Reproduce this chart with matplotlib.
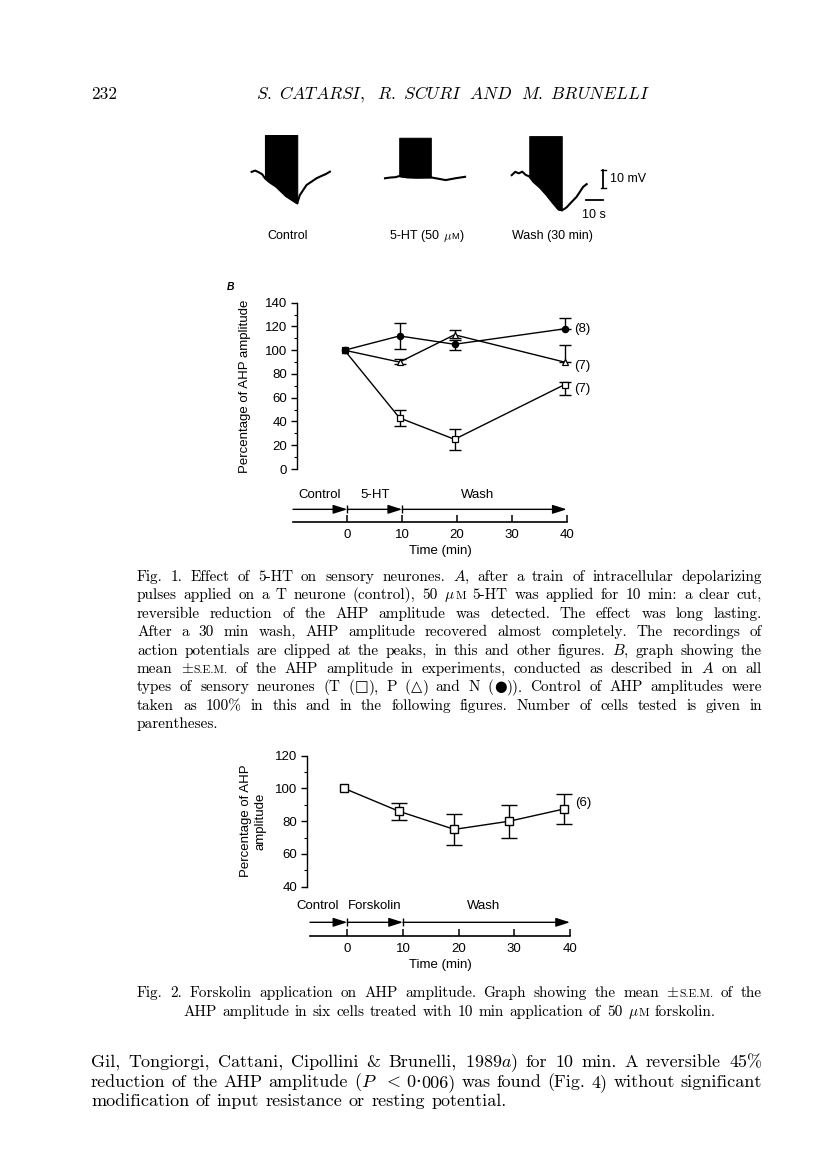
import numpy as np
import matplotlib
matplotlib.use("Agg")
import matplotlib.pyplot as plt

plt.rcParams['mathtext.fontset'] = 'cm'
SANS = 'Liberation Sans'
SERIF = ['cmr10', 'DejaVu Serif']

W, H = 816, 1160
fig = plt.figure(figsize=(W / 100, H / 100), dpi=100)


def px_axes(x0, y0, x1, y1):
    # axes placed by page pixel box (top-left origin)
    return fig.add_axes([x0 / W, 1 - y1 / H, (x1 - x0) / W, (y1 - y0) / H])


# ---------------- data ----------------
# A: voltage traces (time in s, membrane potential in mV)
ctrl_t = [0, 2, 4, 6, 7.6, 10, 14, 19.5, 25.9, 27.4, 31.2, 36.9, 40, 42, 44.5]
ctrl_v = [0.5, 1.2, 0.3, -0.8, -3, -5, -7.6, -12.7, -16.7, -12.2, -6.7, -3, -1.6, -0.8, 0.6]
ht_t = [0, 3, 6, 8.1, 12, 18, 26, 30, 34.5, 40, 45.5]
ht_v = [-3, -2.6, -2.4, -1.8, -2.4, -2.6, -2.5, -3.2, -4.0, -3.0, -2.2]
wash_t = [0, 2, 4, 6, 8, 10, 12.3, 16, 19.9, 23, 26.5, 28.4, 29.5, 31.2, 34, 36.9, 40.6, 42.6]
wash_v = [-1.3, 0.5, -0.3, 0.6, -1.2, -2, -4.9, -8, -12.2, -16, -20, -20.5, -20, -18.9, -16, -13.1, -7.7, -6.2]
trace_start = [6.6, 82.4, 154.4]       # s, position of each trace on the strip
spike_on = [7.6, 8.1, 10.0]
spike_off = [25.9, 26.0, 28.4]
clip_top = [20.6, 19.1, 20.0]
trace_names = ['Control', '5-HT (50 μ{M})', 'Wash (30 min)']
scale_mv, scale_s = 10, 10

# B: AHP amplitude after 5-HT
time_b = [0, 10, 20, 40]
amp_T = [100, 43, 25, 71]
lo_T = [0, 7, 9, 9]
hi_T = [0, 7, 9, 2]
amp_P = [100, 90, 113, 90]
lo_P = [0, 2, 3, 0]
hi_P = [0, 3, 4, 14]
amp_N = [100, 112, 105, 118]
lo_N = [0, 11, 5, 0]
hi_N = [0, 11, 4, 9]
n_cells_b = {'N': '(8)', 'P': '(7)', 'T': '(7)'}
phases_b = ['Control', '5-HT', 'Wash']
edges_b = [-9.9, 0, 10, 40]
label_x_b = [-5.0, 5.0, 23.8]

# Fig. 2: forskolin
time_2 = [0, 10, 20, 30, 40]
amp_2 = [100, 86, 75, 80, 87.5]
err_2 = [0, 5, 9.5, 10, 9]
phases_2 = ['Control', 'Forskolin', 'Wash']
edges_2 = [-6.7, 0, 10, 40]
label_x_2 = [-5.3, 5.0, 24.4]
time_ticks = [0, 10, 20, 30, 40]

# ---------------- text helpers ----------------
SPECIAL = {'□': ('□', 0.95, 'DejaVu Sans'), '△': ('△', 0.95, 'DejaVu Sans'),
           '●': ('●', 0.95, 'DejaVu Sans'), '±': (r'$\pm$', 1.0, None),
           'μ': (r'$\mu$', 1.0, None), '·': ('·', 1.0, 'DejaVu Serif'),
           '<': (r'$<$', 1.0, None)}


def segments(word):
    segs, buf, small = [], '', False
    for ch in word:
        if ch in SPECIAL or ch in '{}':
            if buf:
                segs.append((buf, 0.75 if small else 1.0, None))
                buf = ''
            if ch == '{':
                small = True
            elif ch == '}':
                small = False
            else:
                segs.append(SPECIAL[ch])
        else:
            buf += ch
    if buf:
        segs.append((buf, 0.75 if small else 1.0, None))
    return segs


def text_line(line, x0, x1, y, size, mode='justify', family=SERIF, space=0.36):
    r = fig.canvas.get_renderer()
    items = []
    for w in line.split(' '):
        parts = []
        for s, sc, fam in segments(w):
            t = fig.text(0, 1 - y / H, s, fontsize=size * sc,
                         family=fam if fam else family, va='baseline')
            parts.append((t, t.get_window_extent(r).width))
        items.append(parts)
    tot = sum(wd for parts in items for _, wd in parts)
    if mode == 'justify':
        gap = (x1 - x0 - tot) / (len(items) - 1)
        x = x0
    else:
        gap = space * size * 100 / 72
        width = tot + gap * (len(items) - 1)
        x = x0 if mode == 'left' else (x0 + x1) / 2 - width / 2
    for parts in items:
        for t, wd in parts:
            t.set_x(x / W)
            x += wd
        x += gap


def paragraph(lines, x0, x1, y0, lead, size, last='left'):
    for i, line in enumerate(lines):
        mode = 'justify' if i < len(lines) - 1 else last
        text_line(line, x0, x1, y0 + i * lead, size, mode)


# ---------------- header ----------------
fig.text(91 / W, 1 - 99 / H, '232', fontsize=12.5, family=SERIF, va='baseline')
fig.text(453 / W, 1 - 99 / H, r'$S.\ CATARSI,\ \ R.\ SCURI\ \ AND\ \ M.\ BRUNELLI$',
         fontsize=12.5, ha='center', va='baseline')

# ---------------- A: traces ----------------
axA = px_axes(240, 125, 640, 220)
axA.set_xlim(0, 227.3)
axA.set_ylim(-25.8, 26.1)
axA.axis('off')
for tt, vv, t0, on, off, top in zip([ctrl_t, ht_t, wash_t], [ctrl_v, ht_v, wash_v],
                                    trace_start, spike_on, spike_off, clip_top):
    tt = np.array(tt) + t0
    vv = np.array(vv)
    axA.plot(tt, vv, color='black', lw=1.5, solid_joinstyle='round')
    inside = (tt >= on + t0) & (tt <= off + t0)
    axA.fill_between(tt, vv, top, where=inside, color='black', lw=0.8)
# scale bars
sb_x, sb_y = 206.4, -8.5
axA.plot([sb_x, sb_x], [sb_y, sb_y + scale_mv], color='black', lw=1.3)
axA.plot([sb_x - 1.3, sb_x + 1.3], [sb_y, sb_y], color='black', lw=1)
axA.plot([sb_x - 1.3, sb_x + 1.3], [sb_y + scale_mv, sb_y + scale_mv], color='black', lw=1)
axA.plot([sb_x - scale_s, sb_x], [sb_y - 6.4] * 2, color='black', lw=1.3)
axA.text(sb_x + 4, sb_y + scale_mv / 2, '%d mV' % scale_mv, family=SANS, fontsize=9, va='center')
axA.text(sb_x - scale_s / 2, sb_y - 11.5, '%d s' % scale_s, family=SANS, fontsize=9,
         ha='center', va='top')
for name, xc in zip(trace_names, [288, 427, 552]):
    if '{' in name:
        # '5-HT (50' as one run, then the mu and small-cap M
        head, tail = name.split(' μ')
        text_line(head.replace(' ', '\u00a0') + ' μ' + tail, xc, xc, 239, 9,
                  mode='center', family=SANS, space=0.25)
    else:
        fig.text(xc / W, 1 - 239 / H, name, family=SANS, fontsize=9, ha='center',
                 va='baseline')

# ---------------- B: chart ----------------
fig.text(231 / W, 1 - 287 / H, 'B', family=SANS, fontsize=7.5, style='italic',
         weight='bold', ha='center', va='center')


def style_axes(ax, ymin, ymax, step):
    for s in ['top', 'right', 'bottom']:
        ax.spines[s].set_visible(False)
    ax.spines['left'].set_linewidth(1.0)
    ax.spines['left'].set_bounds(ymin, ymax)
    ax.set_xticks([])
    ax.set_yticks(np.arange(ymin, ymax + 1, step))
    ax.set_yticks(np.arange(ymin, ymax + 1, step / 2), minor=True)
    ax.tick_params(axis='y', which='major', length=4, width=1.0, pad=3, labelsize=9.5)
    ax.tick_params(axis='y', which='minor', length=2.5, width=0.8)
    for lab in ax.get_yticklabels():
        lab.set_family(SANS)
    ax.patch.set_visible(False)


axB = px_axes(297, 302.7, 600, 469)
axB.set_xlim(-8.64, 46.45)
axB.set_ylim(0, 140)
style_axes(axB, 0, 140, 20)
series_b = [(amp_T, lo_T, hi_T, 's', 'white', 'T'),
            (amp_P, lo_P, hi_P, '^', 'white', 'P'),
            (amp_N, lo_N, hi_N, 'o', 'black', 'N')]
for amp, lo, hi, mk, fc, key in series_b:
    axB.errorbar(time_b[1:], amp[1:], yerr=[lo[1:], hi[1:]], fmt='none', ecolor='black',
                 elinewidth=1.0, capsize=4.5, capthick=1.0, zorder=2)
    axB.plot(time_b, amp, color='black', lw=1.0, marker=mk, mfc=fc, mec='black',
             ms=5 if mk != 'o' else 4.5, mew=0.9, zorder=3, clip_on=False)
lab_dy = {'N': 0, 'P': -3, 'T': -3}
for amp, lo, hi, mk, fc, key in series_b:
    axB.annotate(n_cells_b[key], xy=(time_b[-1], amp[-1]), xytext=(7, lab_dy[key]),
                 textcoords='offset points', va='center', family=SANS, fontsize=9.5)
fig.text(245 / W, 1 - 386 / H, 'Percentage of AHP amplitude', family=SANS, fontsize=9.5,
         rotation=90, ha='center', va='center')


def timeline(ax, edges, names, label_x, ya, yt):
    ax.set_ylim(0, 1)
    for s in ['top', 'right', 'left']:
        ax.spines[s].set_visible(False)
    ax.spines['bottom'].set_bounds(edges[0], edges[-1])
    ax.spines['bottom'].set_linewidth(1.2)
    ax.set_yticks([])
    ax.set_xticks(time_ticks)
    ax.tick_params(axis='x', direction='in', length=5, width=1.1, pad=5, labelsize=9.5)
    for lab in ax.get_xticklabels():
        lab.set_family(SANS)
    ax.set_xlabel('Time (min)', family=SANS, fontsize=9.5, labelpad=3)
    ax.patch.set_visible(False)
    for i, name in enumerate(names):
        ax.annotate('', xy=(edges[i + 1], ya), xytext=(edges[i], ya),
                    arrowprops=dict(arrowstyle='-|>,head_length=0.85,head_width=0.27',
                                    color='black', lw=1.0, shrinkA=0, shrinkB=0))
        ax.text(label_x[i], yt, name, family=SANS, fontsize=9.5, ha='center', va='center')
    ax.plot(edges[1:-1], [ya] * (len(edges) - 2), ls='none', marker='|', ms=6,
            mew=1.0, color='black', clip_on=False)


axTB = px_axes(280, 490, 600, 521.7)
axTB.set_xlim(-12.27, 46.07)
timeline(axTB, edges_b, phases_b, label_x_b, 0.39, 0.84)

# ---------------- Fig. 1 caption ----------------
cap1 = [
    "Fig. 1. Effect of 5-HT on sensory neurones. $A$, after a train of intracellular depolarizing",
    "pulses applied on a T neurone (control), 50 μ{M} 5-HT was applied for 10 min: a clear cut,",
    "reversible reduction of the AHP amplitude was detected. The effect was long lasting.",
    "After a 30 min wash, AHP amplitude recovered almost completely. The recordings of",
    "action potentials are clipped at the peaks, in this and other figures. $B$, graph showing the",
    "mean ±{S.E.M.} of the AHP amplitude in experiments, conducted as described in $A$ on all",
    "types of sensory neurones (T (□), P (△) and N (●)). Control of AHP amplitudes were",
    "taken as 100% in this and in the following figures. Number of cells tested is given in",
    "parentheses.",
]
paragraph(cap1, 137, 762, 581, 18.4, 11)

# ---------------- Fig. 2 chart ----------------
ax2 = px_axes(307, 755.7, 600, 886.7)
ax2.set_xlim(-6.78, 46.49)
ax2.set_ylim(40, 120)
style_axes(ax2, 40, 120, 20)
ax2.errorbar(time_2[1:], amp_2[1:], yerr=err_2[1:], fmt='none', ecolor='black',
             elinewidth=1.0, capsize=5.5, capthick=1.0, zorder=2)
ax2.plot(time_2, amp_2, color='black', lw=1.0, marker='s', mfc='white', mec='black',
         ms=6, mew=1.0, zorder=3, clip_on=False)
ax2.annotate('(6)', xy=(time_2[-1], amp_2[-1]), xytext=(8, 4), textcoords='offset points',
             va='center', family=SANS, fontsize=9.5)
fig.text(253 / W, 1 - 821 / H, 'Percentage of AHP\namplitude', family=SANS, fontsize=9.5,
         rotation=90, ha='center', va='center', linespacing=1.3)

axT2 = px_axes(280, 900, 600, 935.7)
axT2.set_xlim(-12.09, 45.39)
timeline(axT2, edges_2, phases_2, label_x_2, 0.375, 0.83)

# ---------------- Fig. 2 caption and body ----------------
cap2 = [
    "Fig. 2. Forskolin application on AHP amplitude. Graph showing the mean ±{S.E.M.} of the",
    "AHP amplitude in six cells treated with 10 min application of 50 μ{M} forskolin.",
]
paragraph(cap2, 137, 762, 997, 18.8, 11, last='center')

body = [
    "Gil, Tongiorgi, Cattani, Cipollini & Brunelli, 1989$a$) for 10 min. A reversible 45%",
    "reduction of the AHP amplitude ($P$ < 0·006) was found (Fig. 4) without significant",
    "modification of input resistance or resting potential.",
]
paragraph(body, 91, 762, 1067, 19.7, 13)

fig.savefig('out.png', dpi=100)
